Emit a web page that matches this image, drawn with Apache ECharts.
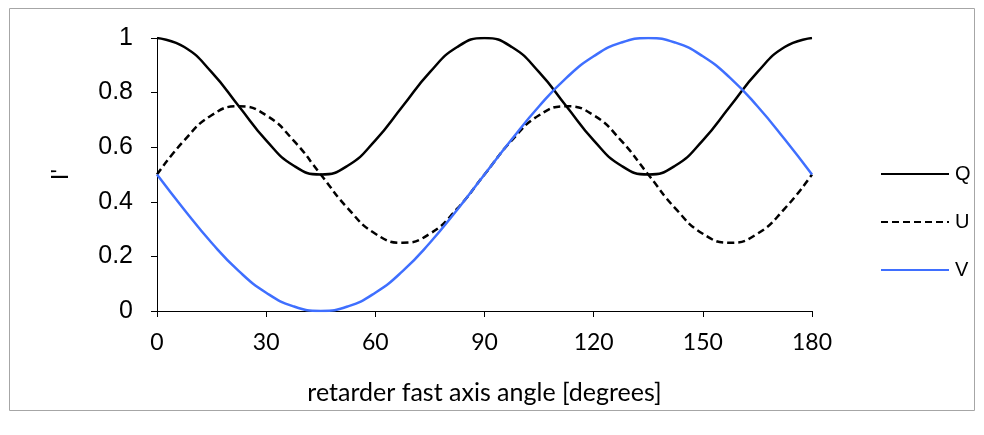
<!DOCTYPE html>
<html><head><meta charset="utf-8">
<script src="https://cdn.jsdelivr.net/npm/echarts@6/dist/echarts.min.js"></script>
<style>html,body{margin:0;padding:0;background:#fff}#c{width:984px;height:435px}</style>
</head><body><div id="c"></div>
<script>
var angles = [0,7.5,15,22.5,30,37.5,45,52.5,60,67.5,75,82.5,90,97.5,105,112.5,120,127.5,135,142.5,150,157.5,165,172.5,180];
var Q = [1,0.967,0.875,0.75,0.625,0.533,0.5,0.533,0.625,0.75,0.875,0.967,1,0.967,0.875,0.75,0.625,0.533,0.5,0.533,0.625,0.75,0.875,0.967,1];
var U = [0.5,0.625,0.717,0.75,0.717,0.625,0.5,0.375,0.283,0.25,0.283,0.375,0.5,0.625,0.717,0.75,0.717,0.625,0.5,0.375,0.283,0.25,0.283,0.375,0.5];
var V = [0.5,0.371,0.25,0.146,0.067,0.017,0,0.017,0.067,0.146,0.25,0.371,0.5,0.629,0.75,0.854,0.933,0.983,1,0.983,0.933,0.854,0.75,0.629,0.5];
var seriesNames = ['Q','U','V'];

function pairs(arr){ return angles.map(function(a,i){ return [a, arr[i]]; }); }

var chart = echarts.init(document.getElementById('c'), null, {renderer:'canvas'});
chart.setOption({
  animation:false,
  backgroundColor:'#fff',
  graphic:[{type:'rect', shape:{x:9.5,y:8.5,width:965,height:402}, style:{fill:'none', stroke:'#a6a6a6', lineWidth:1}, silent:true}],
  grid:{left:157, right:172, top:38, bottom:124},
  xAxis:{type:'value', min:0, max:180, interval:30,
    name:'retarder fast axis angle [degrees]', nameLocation:'middle', nameGap:69,
    nameTextStyle:{fontFamily:'Lato', fontSize:25, color:'#000'},
    axisLine:{lineStyle:{color:'#000', width:1}},
    axisTick:{show:true, length:6, lineStyle:{color:'#000'}},
    axisLabel:{fontFamily:'Lato', fontSize:23, color:'#000', margin:20},
    splitLine:{show:false}},
  yAxis:{type:'value', min:0, max:1, interval:0.2,
    name:"I'", nameLocation:'middle', nameGap:84, nameRotate:90,
    nameTextStyle:{fontFamily:'Liberation Sans', fontSize:24, color:'#000'},
    axisLine:{show:true, lineStyle:{color:'#000', width:1}},
    axisTick:{show:true, length:6, lineStyle:{color:'#000'}},
    axisLabel:{fontFamily:'Liberation Sans', fontSize:25, color:'#000', margin:24,
      formatter:function(v){ return String(Math.round(v*10)/10); }},
    splitLine:{show:false}},
  legend:{orient:'vertical', left:875, top:159, itemWidth:68, itemHeight:20, itemGap:28,
    itemStyle:{opacity:0},
    textStyle:{fontFamily:'Liberation Sans', fontSize:20, color:'#000', padding:[0,0,0,1]},
    data:seriesNames, selectedMode:false},
  series:[
    {name:seriesNames[0], type:'line', data:pairs(Q), smooth:true, symbol:'none', lineStyle:{color:'#000', width:2.5}, itemStyle:{color:'#000'}},
    {name:seriesNames[1], type:'line', data:pairs(U), smooth:true, symbol:'none', lineStyle:{color:'#000', width:2.5, type:[7,4]}, itemStyle:{color:'#000'}},
    {name:seriesNames[2], type:'line', data:pairs(V), smooth:true, symbol:'none', lineStyle:{color:'#3f6fff', width:2.5}, itemStyle:{color:'#3f6fff'}}
  ]
});
</script></body></html>
